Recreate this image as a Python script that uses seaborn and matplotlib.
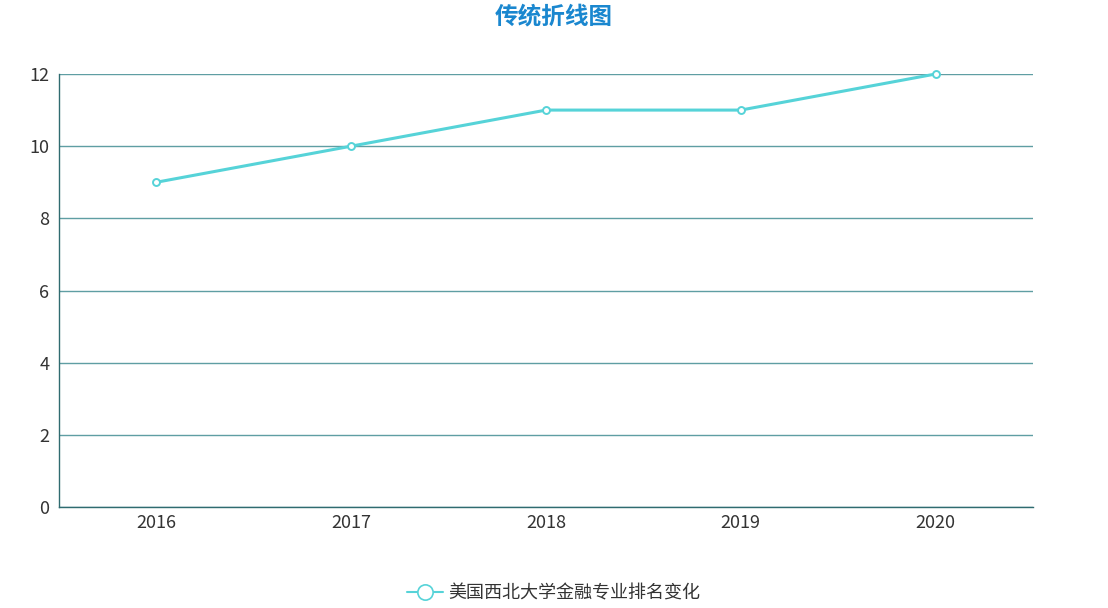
import pandas as pd
import seaborn as sns
import numpy as np
import matplotlib.pyplot as plt
from matplotlib.ticker import FixedLocator

years = ['2016', '2017', '2018', '2019', '2020']
ranks = [9, 10, 11, 11, 12]
series_name = '美国西北大学金融专业排名变化'
title = '传统折线图'

sns.set_theme(style='white')
plt.rcParams['font.family'] = ['Noto Sans CJK SC', 'DejaVu Sans']

df = pd.DataFrame({'pos': np.arange(len(years)), 'rank': ranks, 'name': series_name})

fig = plt.figure(figsize=(11.08, 6.08), dpi=100)
ax = fig.add_axes([59 / 1108, 1 - 507 / 608, (1033 - 59) / 1108, (507 - 74) / 608])

line_c = '#56d3d8'
grid_c = '#5f9ea3'
axis_c = '#2f6b70'

sns.lineplot(data=df, x='pos', y='rank', hue='name', palette=[line_c], ax=ax,
             linewidth=2.2, marker='o', markersize=5, markerfacecolor='white',
             markeredgecolor=line_c, markeredgewidth=1.4, legend=False, zorder=5,
             clip_on=False)

ax.set_xlim(-0.5, len(years) - 0.5)
ax.set_ylim(0, 12)
ax.set_yticks(np.arange(0, 13, 2))
ax.set_yticklabels([str(v) for v in range(0, 13, 2)], fontsize=13, color='#333333')
ax.xaxis.set_major_locator(FixedLocator(np.arange(len(years) + 1) - 0.5))
ax.xaxis.set_minor_locator(FixedLocator(np.arange(len(years))))
ax.set_xticklabels([])
ax.set_xticklabels(years, minor=True, fontsize=13, color='#333333')
ax.tick_params(axis='x', which='major', length=5, width=1, color=axis_c, direction='out')
ax.tick_params(axis='x', which='minor', length=0, pad=5)
ax.tick_params(axis='y', length=5, width=1, color=axis_c, direction='out', pad=2)
ax.set_xlabel('')
ax.set_ylabel('')

ax.grid(axis='y', color=grid_c, linewidth=1)
ax.set_axisbelow(True)
for s in ['top', 'right']:
    ax.spines[s].set_visible(False)
for s in ['left', 'bottom']:
    ax.spines[s].set_color(axis_c)
    ax.spines[s].set_linewidth(1)

fig.text(554 / 1108, 1 - 16 / 608, title, ha='center', va='center',
         fontsize=17, fontweight='bold', color='#1a87cf')

handle = plt.Line2D([], [], color=line_c, linewidth=1.5, marker='o', markersize=11,
                    markerfacecolor='white', markeredgecolor=line_c, markeredgewidth=1.2)
fig.legend([handle], [series_name], loc='center', bbox_to_anchor=(554 / 1108, 1 - 593 / 608),
           frameon=False, fontsize=13, handlelength=2, handletextpad=0.3,
           labelcolor='#333333')

fig.savefig('out.png', dpi=100)
